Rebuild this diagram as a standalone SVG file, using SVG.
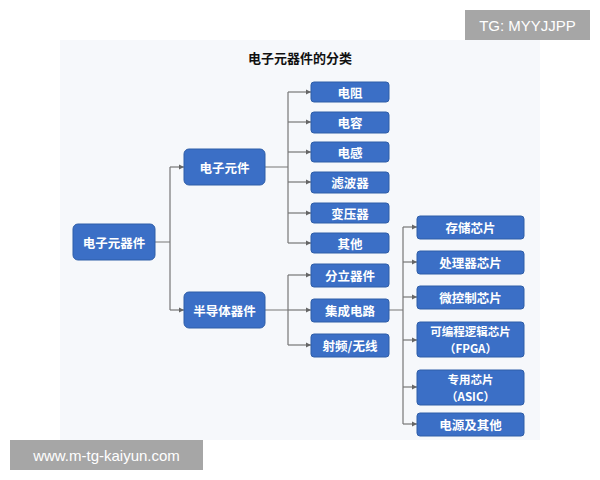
<svg xmlns="http://www.w3.org/2000/svg" width="600" height="480" viewBox="0 0 600 480">
<defs>
<marker id="a" markerWidth="6" markerHeight="6" refX="5" refY="3" orient="auto" markerUnits="userSpaceOnUse"><path d="M0,0.5 L5,3 L0,5.5z" fill="#666"/></marker>
<style>
.n rect{fill:#3b6fc6;stroke:#2f5ea8;stroke-width:1}
.n text{fill:#fff;font-family:"Noto Sans CJK SC","Noto Sans",sans-serif;font-size:12.5px;font-weight:bold;text-anchor:middle;dominant-baseline:central}
.n text.s{font-size:11.5px}
.c path{fill:none;stroke:#777;stroke-width:1.2}
.c .ar{marker-end:url(#a)}
</style>
</defs>
<rect width="600" height="480" fill="#fff"/>
<rect x="60" y="40" width="480" height="400" fill="#f6f8fb"/>
<text x="300" y="57" font-family="'Noto Sans CJK SC',sans-serif" font-size="13" font-weight="bold" text-anchor="middle" dominant-baseline="central" fill="#111">电子元器件的分类</text>
<g class="c">
<path d="M155,242H170M170,167V310"/>
<path class="ar" d="M170,167H184"/><path class="ar" d="M170,310H184"/>
<path d="M265,167H288M288,92V243"/>
<path class="ar" d="M288,92H311"/><path class="ar" d="M288,122H311"/><path class="ar" d="M288,152H311"/><path class="ar" d="M288,182H311"/><path class="ar" d="M288,213H311"/><path class="ar" d="M288,243H311"/>
<path d="M265,310H288M288,275V345"/>
<path class="ar" d="M288,275H311"/><path class="ar" d="M288,310H311"/><path class="ar" d="M288,345H311"/>
<path d="M389,310H403M403,227V424"/>
<path class="ar" d="M403,227H417"/><path class="ar" d="M403,262H417"/><path class="ar" d="M403,297H417"/><path class="ar" d="M403,340H417"/><path class="ar" d="M403,387H417"/><path class="ar" d="M403,424H417"/>
</g>
<g id="root" class="n"><rect x="73" y="224" width="82" height="36" rx="5"/><text x="114" y="242">电子元器件</text></g>
<g id="yj" class="n"><rect x="184" y="149" width="81" height="36" rx="5"/><text x="224.5" y="167">电子元件</text></g>
<g id="bdt" class="n"><rect x="184" y="292" width="81" height="36" rx="5"/><text x="224.5" y="310">半导体器件</text></g>
<g id="n1" class="n"><rect x="311" y="82" width="78" height="20" rx="3"/><text x="350" y="92">电阻</text></g>
<g id="n2" class="n"><rect x="311" y="112" width="78" height="21" rx="3"/><text x="350" y="122.5">电容</text></g>
<g id="n3" class="n"><rect x="311" y="142" width="78" height="20" rx="3"/><text x="350" y="152">电感</text></g>
<g id="n4" class="n"><rect x="311" y="172" width="78" height="21" rx="3"/><text x="350" y="182.5">滤波器</text></g>
<g id="n5" class="n"><rect x="311" y="203" width="78" height="20" rx="3"/><text x="350" y="213">变压器</text></g>
<g id="n6" class="n"><rect x="311" y="233" width="78" height="20" rx="3"/><text x="350" y="243">其他</text></g>
<g id="n7" class="n"><rect x="311" y="264" width="78" height="23" rx="3"/><text x="350" y="275.5">分立器件</text></g>
<g id="n8" class="n"><rect x="311" y="299" width="78" height="23" rx="3"/><text x="350" y="310.5">集成电路</text></g>
<g id="n9" class="n"><rect x="311" y="334" width="78" height="23" rx="3"/><text x="350" y="345.5">射频/无线</text></g>
<g id="m1" class="n"><rect x="417" y="216" width="107" height="23" rx="3"/><text x="470.5" y="227.5">存储芯片</text></g>
<g id="m2" class="n"><rect x="417" y="251" width="107" height="23" rx="3"/><text x="470.5" y="262.5">处理器芯片</text></g>
<g id="m3" class="n"><rect x="417" y="286" width="107" height="23" rx="3"/><text x="470.5" y="297.5">微控制芯片</text></g>
<g id="m4" class="n"><rect x="417" y="322" width="107" height="35" rx="3"/><text class="s" x="470.5" y="331">可编程逻辑芯片</text><text class="s" x="470.5" y="348">（FPGA）</text></g>
<g id="m5" class="n"><rect x="417" y="370" width="107" height="35" rx="3"/><text class="s" x="470.5" y="379">专用芯片</text><text class="s" x="470.5" y="396">（ASIC）</text></g>
<g id="m6" class="n"><rect x="417" y="413" width="107" height="23" rx="3"/><text x="470.5" y="424.5">电源及其他</text></g>
<rect x="465" y="10" width="125" height="30" fill="#a6a6a6"/>
<text x="527.5" y="25" font-family="'Liberation Sans',sans-serif" font-size="15" fill="#fff" text-anchor="middle" dominant-baseline="central">TG: MYYJJPP</text>
<rect x="10" y="440" width="193" height="30" fill="#a6a6a6"/>
<text x="106.5" y="455" font-family="'Liberation Sans',sans-serif" font-size="15" fill="#fff" text-anchor="middle" dominant-baseline="central">www.m-tg-kaiyun.com</text>
</svg>
